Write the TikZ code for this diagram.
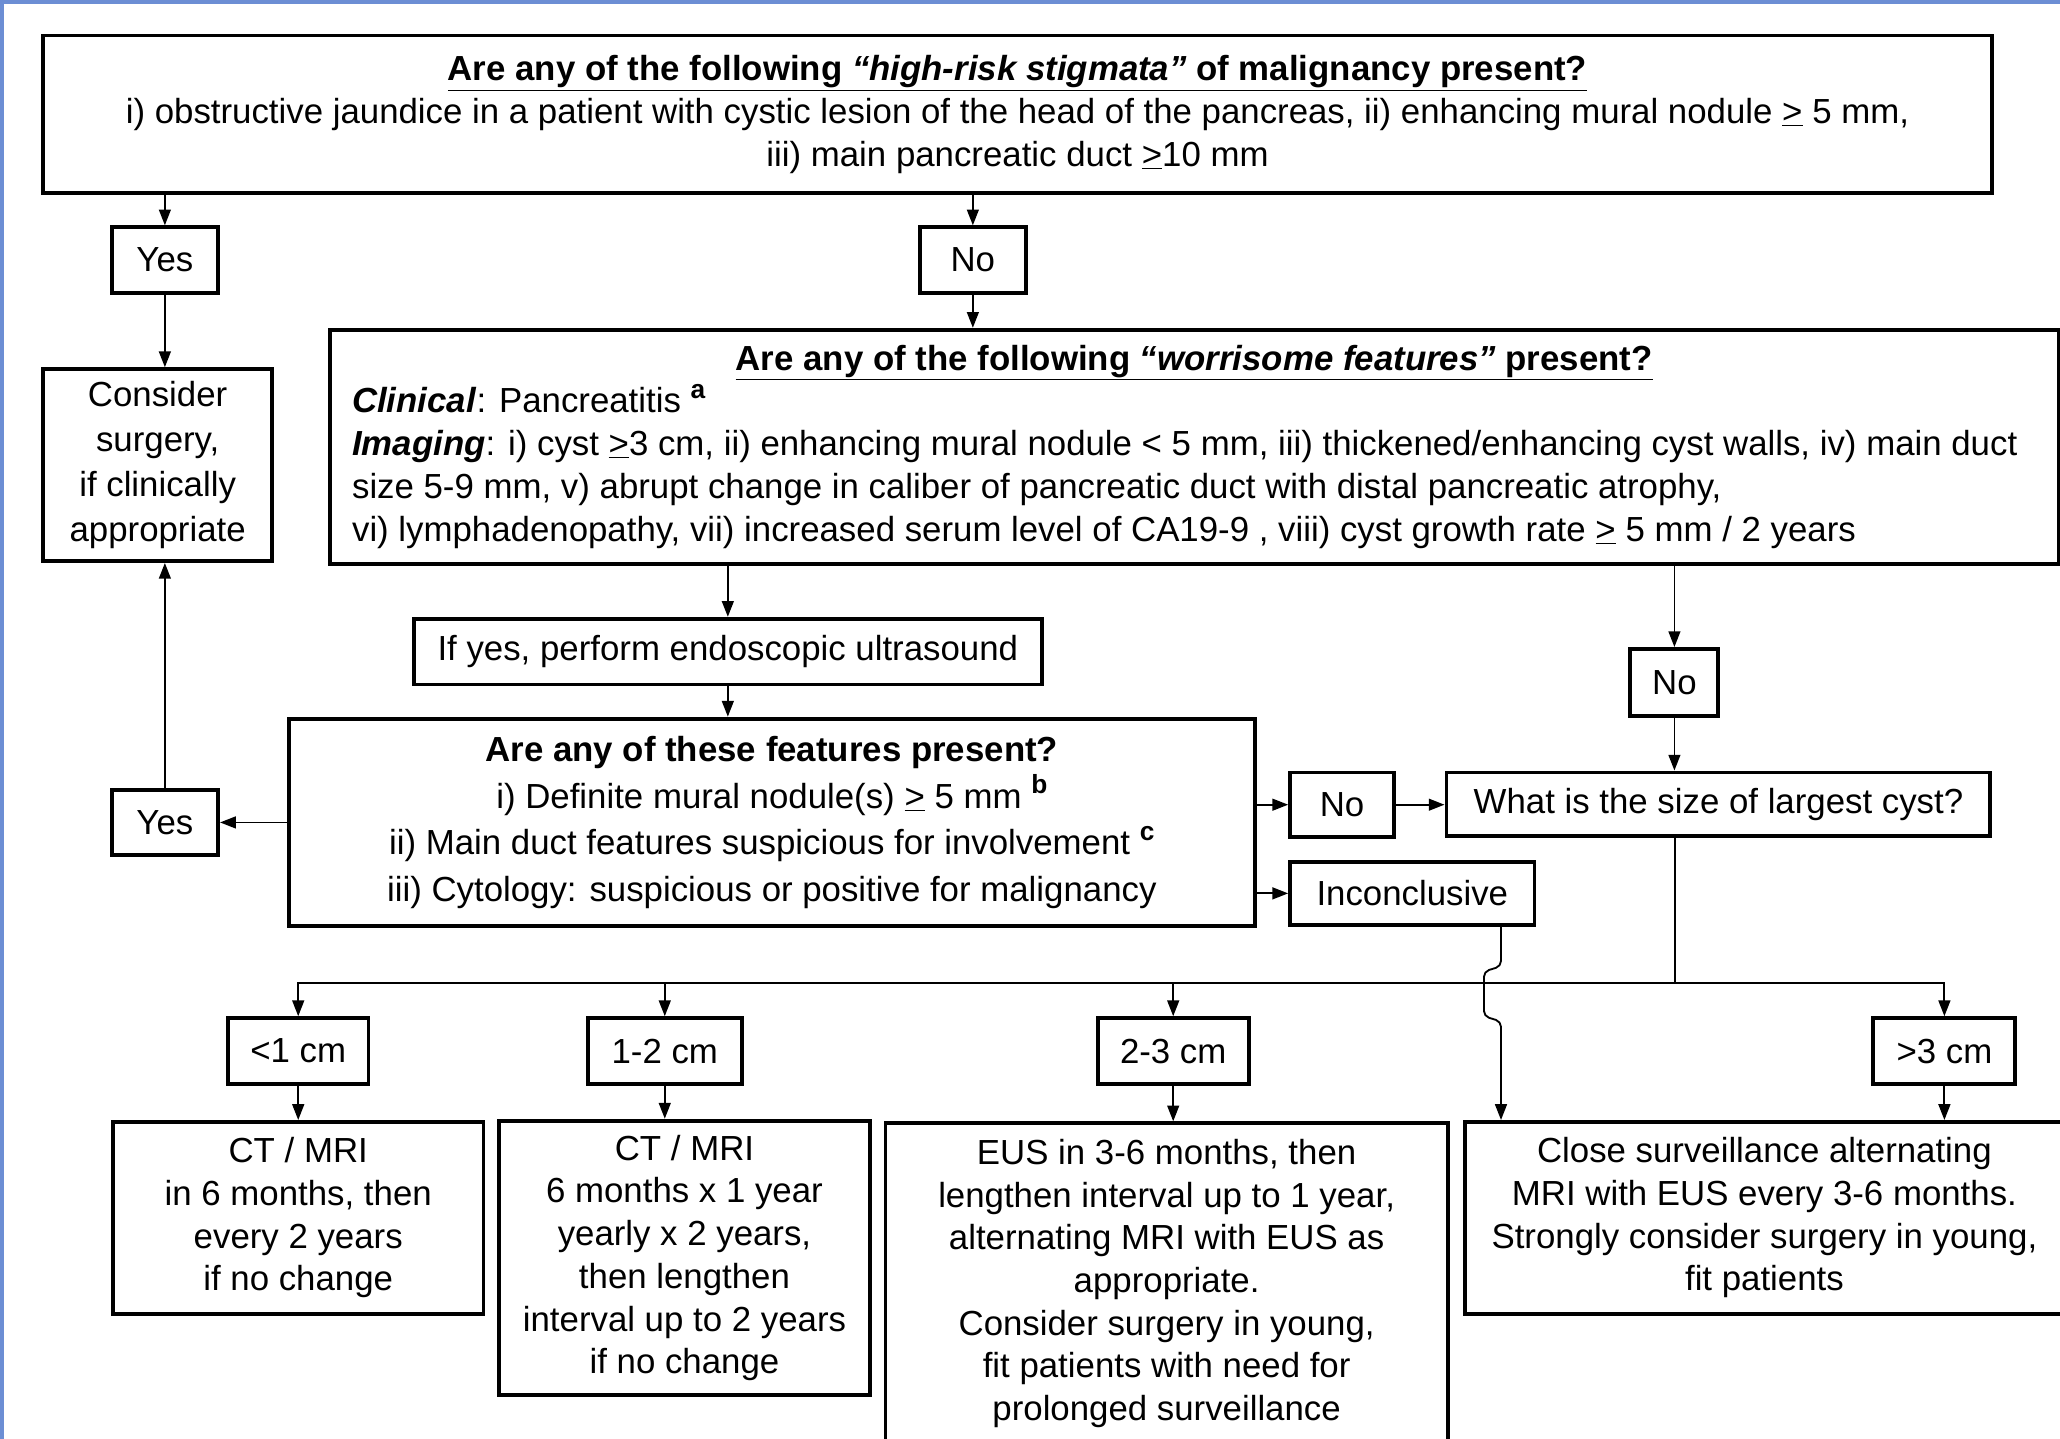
\documentclass[tikz,border=0pt]{standalone}
\usepackage{fontspec}
\setmainfont{Liberation Sans}
\usepackage{tikz}
\usetikzlibrary{positioning,calc,arrows.meta}

\definecolor{frameblue}{RGB}{108,142,212}
\newcommand{\supmark}[1]{\raisebox{0.42em}{\fontsize{20}{20}\selectfont\textbf{#1}}}

\begin{document}
\begin{tikzpicture}[x=1pt,y=-1pt,>={Triangle[length=12pt,width=9pt]}]
                    \tikzstyle{every node}=[font=\fontsize{26.5}{32.5}\selectfont]
                    \tikzstyle{box}=[draw,line width=3pt,fill=white,rectangle,align=center,inner sep=0]
                    \tikzstyle{link}=[->,line width=1.4pt]
                    {
                        \useasboundingbox (0,0) rectangle (1568,1095);
                        \fill[white] (0,0) rectangle (1568,1095);
                        \fill[frameblue] (0,0) rectangle (1568,3);
                        \fill[frameblue] (0,0) rectangle (3,1095);

                        \node[box,minimum width=1483,minimum height=120] (hr) at (774.5,87)
                            {\underline{\textbf{Are any of the following \textit{“high-risk stigmata”} of malignancy present?}}\\
                             i) obstructive jaundice in a patient with cystic lesion of the head of the pancreas, ii) enhancing mural nodule \underline{>} 5 mm,\\
                             iii) main pancreatic duct \underline{>}10 mm};

                        \node[box,minimum width=81,minimum height=50] (yes1) at (125.5,198) {Yes};
                        \node[box,minimum width=81,minimum height=50] (no1) at (740.5,198) {No};
                        \node[box,minimum width=174,minimum height=146,font=\fontsize{26.5}{34.3}\selectfont] (surg) at (120,354)
                            {Consider\\surgery,\\if clinically\\appropriate};

                        \node[box,minimum width=1316,minimum height=178,align=left] (worry) at (909,340)
                            {\makebox[1282pt]{\underline{\textbf{Are any of the following \textit{“worrisome features”} present?}}}\\
                             \textbf{\textit{Clinical}}: Pancreatitis \supmark{a}\\
                             \textbf{\textit{Imaging}}: i) cyst \underline{>}3 cm, ii) enhancing mural nodule < 5 mm, iii) thickened/enhancing cyst walls, iv) main duct\\
                             size 5-9 mm, v) abrupt change in caliber of pancreatic duct with distal pancreatic atrophy,\\
                             vi) lymphadenopathy, vii) increased serum level of CA19-9 , viii) cyst growth rate \underline{>} 5 mm / 2 years};

                        \node[box,minimum width=478,minimum height=50] (eus) at (554,496) {If yes, perform endoscopic ultrasound};
                        \node[box,minimum width=735,minimum height=158,font=\fontsize{26.5}{35.5}\selectfont] (feat) at (587.5,626)
                            {\textbf{Are any of these features present?}\\
                             i) Definite mural nodule(s) \underline{>} 5 mm \supmark{b}\\
                             ii) Main duct features suspicious for involvement \supmark{c}\\
                             iii) Cytology: suspicious or positive for malignancy};
                        \node[box,minimum width=81,minimum height=50] (yes2) at (125.5,626) {Yes};
                        \node[box,minimum width=67,minimum height=51] (no2) at (1274.5,519.5) {No};
                        \node[box,minimum width=79,minimum height=49] (no3) at (1021.5,612.5) {No};
                        \node[box,minimum width=414,minimum height=48] (cyst) at (1308,612) {What is the size of largest cyst?};
                        \node[box,minimum width=186,minimum height=48] (inc) at (1075,680) {Inconclusive};

                        \node[box,minimum width=107,minimum height=50] (lt1) at (227,800) {<1 cm};
                        \node[box,minimum width=117,minimum height=50] (s12) at (506,800) {1-2 cm};
                        \node[box,minimum width=115,minimum height=50] (s23) at (893,800) {2-3 cm};
                        \node[box,minimum width=108,minimum height=50] (gt3) at (1480,800) {>3 cm};

                        \node[box,minimum width=282,minimum height=146] (ra) at (227,927)
                            {CT / MRI\\in 6 months, then\\every 2 years\\if no change};
                        \node[box,minimum width=282,minimum height=209] (rb) at (521,957.5)
                            {CT / MRI\\6 months x 1 year\\yearly x 2 years,\\then lengthen\\interval up to 2 years\\if no change};
                        \node[box,minimum width=428,minimum height=244] (rc) at (888,977)
                            {EUS in 3-6 months, then\\lengthen interval up to 1 year,\\alternating MRI with EUS as\\appropriate.\\Consider surgery in young,\\fit patients with need for\\prolonged surveillance};
                        \node[box,minimum width=456,minimum height=146] (rd) at (1343,927)
                            {Close surveillance alternating\\MRI with EUS every 3-6 months.\\Strongly consider surgery in young,\\fit patients};

                        \draw[link] (hr.south -| yes1) -- (yes1);
                        \draw[link] (hr.south -| no1) -- (no1);
                        \draw[link] (yes1) -- (yes1 |- surg.north);
                        \draw[link] (no1) -- (no1 |- worry.north);
                        \draw[link] (worry.south -| eus) -- (eus);
                        \draw[link] (eus) -- (eus |- feat.north);
                        \draw[link] (feat.west |- yes2) -- (yes2);
                        \draw[link] (yes2) -- (yes2 |- surg.south);
                        \draw[link] (worry.south -| no2) -- (no2);
                        \draw[link] (no2) -- (no2 |- cyst.north);
                        \draw[link] (feat.east |- no3) -- (no3);
                        \draw[link] (no3.east) -- (no3.east -| cyst.west);
                        \draw[link] (feat.east |- inc) -- (inc);

                        \coordinate (bus) at (1275,748);
                        \draw[line width=1.4pt] (cyst.south -| bus) -- (bus);
                        \foreach \s in {lt1,s12,s23,gt3}
                            \draw[link] (bus) -| (\s.north);
                        \foreach \s/\r in {lt1/ra,s12/rb,s23/rc,gt3/rd}
                            \draw[link] (\s) -- (\s |- \r.north);

                        \coordinate (hop) at ($(inc.south east)+(-27,0)$);
                        \draw[link,rounded corners=4] (hop) -- ++(0,30) -- ++(-13,4) -- ++(0,34) -- ++(13,4) -- (hop |- rd.north);
                    }
                \end{tikzpicture}
\end{document}
